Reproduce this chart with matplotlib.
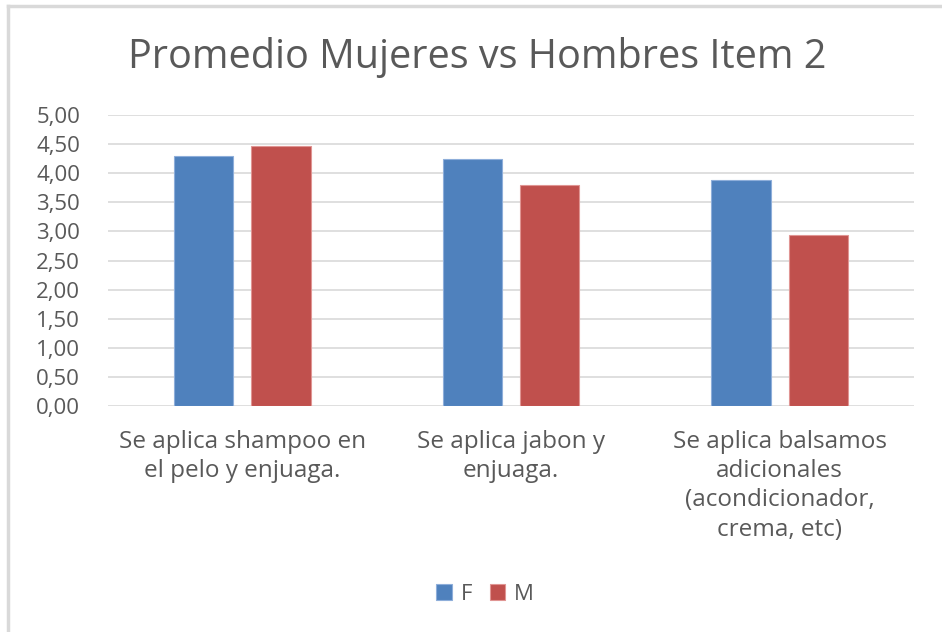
import numpy as np
import matplotlib.pyplot as plt
from matplotlib.lines import Line2D

# Datos
categorias = ['Se aplica shampoo en\nel pelo y enjuaga.',
              'Se aplica jabon y\nenjuaga.',
              'Se aplica balsamos\nadicionales\n(acondicionador,\ncrema, etc)']
valores_f = [4.30, 4.25, 3.89]
valores_m = [4.47, 3.80, 2.93]
ticks_y = np.arange(0, 5.01, 0.5)
etiquetas_y = [f'{v:.2f}'.replace('.', ',') for v in ticks_y]

plt.rcParams['font.family'] = ['Open Sans', 'DejaVu Sans']
gris_texto = '#595959'

fig = plt.figure(figsize=(9.42, 6.32), dpi=100)
ax = fig.add_axes([108 / 942, 1 - 406 / 632, (914 - 108) / 942, (406 - 115) / 632])

x = np.arange(len(categorias))
ancho = 0.22
desp = 0.144
ax.bar(x - desp, valores_f, ancho, color='#4F81BD', edgecolor='#8EAEDA', linewidth=0.8, label='F', zorder=3)
ax.bar(x + desp, valores_m, ancho, color='#C0504D', edgecolor='#E09593', linewidth=0.8, label='M', zorder=3)

ax.set_xlim(-0.5, 2.5)
ax.set_ylim(0, 5)
ax.set_yticks(ticks_y)
ax.set_yticklabels(etiquetas_y, color=gris_texto, fontsize=16)
ax.set_xticks(x)
ax.set_xticklabels(categorias, color=gris_texto, fontsize=17.5, linespacing=1.3, va='top')
ax.tick_params(axis='both', length=0)
ax.tick_params(axis='x', pad=17)
ax.tick_params(axis='y', pad=20)
ax.grid(axis='y', color='#D9D9D9', linewidth=1.2, zorder=0)
for s in ax.spines.values():
    s.set_visible(False)

fig.text(477 / 942, 1 - 58 / 632, 'Promedio Mujeres vs Hombres Item 2',
         ha='center', va='center', fontsize=28.5, color=gris_texto)

leg = fig.legend(loc='center', bbox_to_anchor=(485 / 942, 1 - 594 / 632), ncol=2, frameon=False,
                 fontsize=16, handlelength=0.7, handleheight=0.7, handletextpad=0.4, columnspacing=0.8)
for t in leg.get_texts():
    t.set_color(gris_texto)

# borde del gráfico
fig.add_artist(Line2D([7.5 / 942, 7.5 / 942], [0, 1 - 6 / 632], color='#D9D9D9', linewidth=2.5))
fig.add_artist(Line2D([7.5 / 942, 1], [1 - 6 / 632, 1 - 6 / 632], color='#D9D9D9', linewidth=2.5))

fig.savefig('out.png', dpi=100, facecolor='white')
